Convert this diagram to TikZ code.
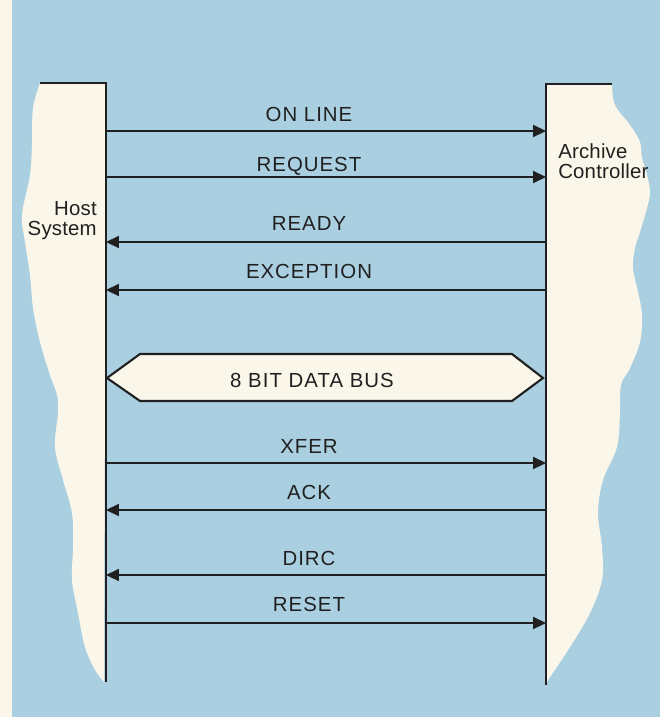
\documentclass[tikz,border=0pt]{standalone}
\usepackage{fontspec}
\newfontfamily\sigfont{Liberation Sans}[LetterSpace=5]
\newfontfamily\sidefont{Liberation Sans}[LetterSpace=1]
\usepackage{tikz}
\usetikzlibrary{arrows.meta, positioning, calc}

\definecolor{paperblue}{RGB}{170,207,224}
\definecolor{cream}{RGB}{250,246,234}
\definecolor{ink}{RGB}{32,32,32}

\tikzset{
  sig/.style={line width=1.5pt, draw=ink},
  edge/.style={line width=1.8pt, draw=ink},
  lbl/.style={anchor=base, text=ink, font=\sigfont\fontsize{14.5}{16}\selectfont},
  side/.style={text=ink, font=\sidefont\fontsize{14.5}{13.6}\selectfont},
}

\begin{document}
\begin{tikzpicture}[x=0.025cm, y=-0.025cm, >={Triangle[length=9.2pt, width=8.5pt]}, every node/.style={inner sep=0pt}]
    % Page and background
    \fill[cream] (0,0) rectangle (660,717);
    \fill[paperblue] (12,0) rectangle (660,717);
    \useasboundingbox (0,0) rectangle (660,717);

    % Host side (torn paper)
    \fill[cream] (106,83) -- plot[smooth, tension=0.6] coordinates {(40,83) (33,108) (32,142) (30,175) (22,215) (25,242) (30,275) (33,308) (40,342) (50,375) (57,395) (58,413) (55,447) (63,480) (72,513) (73,547) (72,580) (78,613) (85,647) (95,670) (104,682)} -- cycle;
    \draw[edge] (40,83) -- (106,83) -- (106,682);

    % Archive side (torn paper)
    \fill[cream] (546,84) -- plot[smooth, tension=0.6] coordinates {(612,84) (615,105) (630,125) (640,142) (642,158) (647,175) (650,192) (647,208) (640,232) (635,248) (633,268) (638,292) (642,315) (640,342) (630,368) (621,385) (620,413) (617,447) (603,480) (598,513) (602,547) (602,580) (590,613) (570,647) (548,680)} -- (546,685) -- cycle;
    \draw[edge] (612,84) -- (546,84) -- (546,685);

    % Side names
    \node[side, align=right, anchor=base east] (host) at (97,235) {Host\\System};
    \node[side, align=left, anchor=base west] (arch) at (558,178) {Archive\\Controller};

    % End points on the host line
    \coordinate (hOnLine) at (106,131);
    \coordinate (hRequest) at (106,177);
    \coordinate (hReady) at (106,242);
    \coordinate (hExcept) at (106,290);
    \coordinate (hXfer) at (106,463);
    \coordinate (hAck) at (106,510);
    \coordinate (hDirc) at (106,575);
    \coordinate (hReset) at (106,623);

    % End points on the archive line
    \coordinate (aOnLine) at (546,131);
    \coordinate (aRequest) at (546,177);
    \coordinate (aReady) at (546,242);
    \coordinate (aExcept) at (546,290);
    \coordinate (aXfer) at (546,463);
    \coordinate (aAck) at (546,510);
    \coordinate (aDirc) at (546,575);
    \coordinate (aReset) at (546,623);

    % Signals
    \draw[sig, ->] (hOnLine) -- (aOnLine);
    \draw[sig, ->] (hRequest) -- (aRequest);
    \draw[sig, ->] (aReady) -- (hReady);
    \draw[sig, ->] (aExcept) -- (hExcept);
    \draw[sig, ->] (hXfer) -- (aXfer);
    \draw[sig, ->] (aAck) -- (hAck);
    \draw[sig, ->] (aDirc) -- (hDirc);
    \draw[sig, ->] (hReset) -- (aReset);

    % Signal names
    \node[lbl] (onLine) at (309,121) {ON LINE};
    \node[lbl] (request) at (309,171) {REQUEST};
    \node[lbl] (ready) at (309,230) {READY};
    \node[lbl] (except) at (309,278) {EXCEPTION};
    \node[lbl] (xfer) at (309,453) {XFER};
    \node[lbl] (ack) at (309,499) {ACK};
    \node[lbl] (dirc) at (309,565) {DIRC};
    \node[lbl] (reset) at (309,611) {RESET};

    % Data bus
    \draw[sig, fill=cream, line join=miter] (107,378) -- (140,354) -- (512,354) -- (543,378) -- (512,401) -- (140,401) -- cycle;
    \node[lbl] (bus) at (312,387) {8 BIT DATA BUS};
\end{tikzpicture}
\end{document}
